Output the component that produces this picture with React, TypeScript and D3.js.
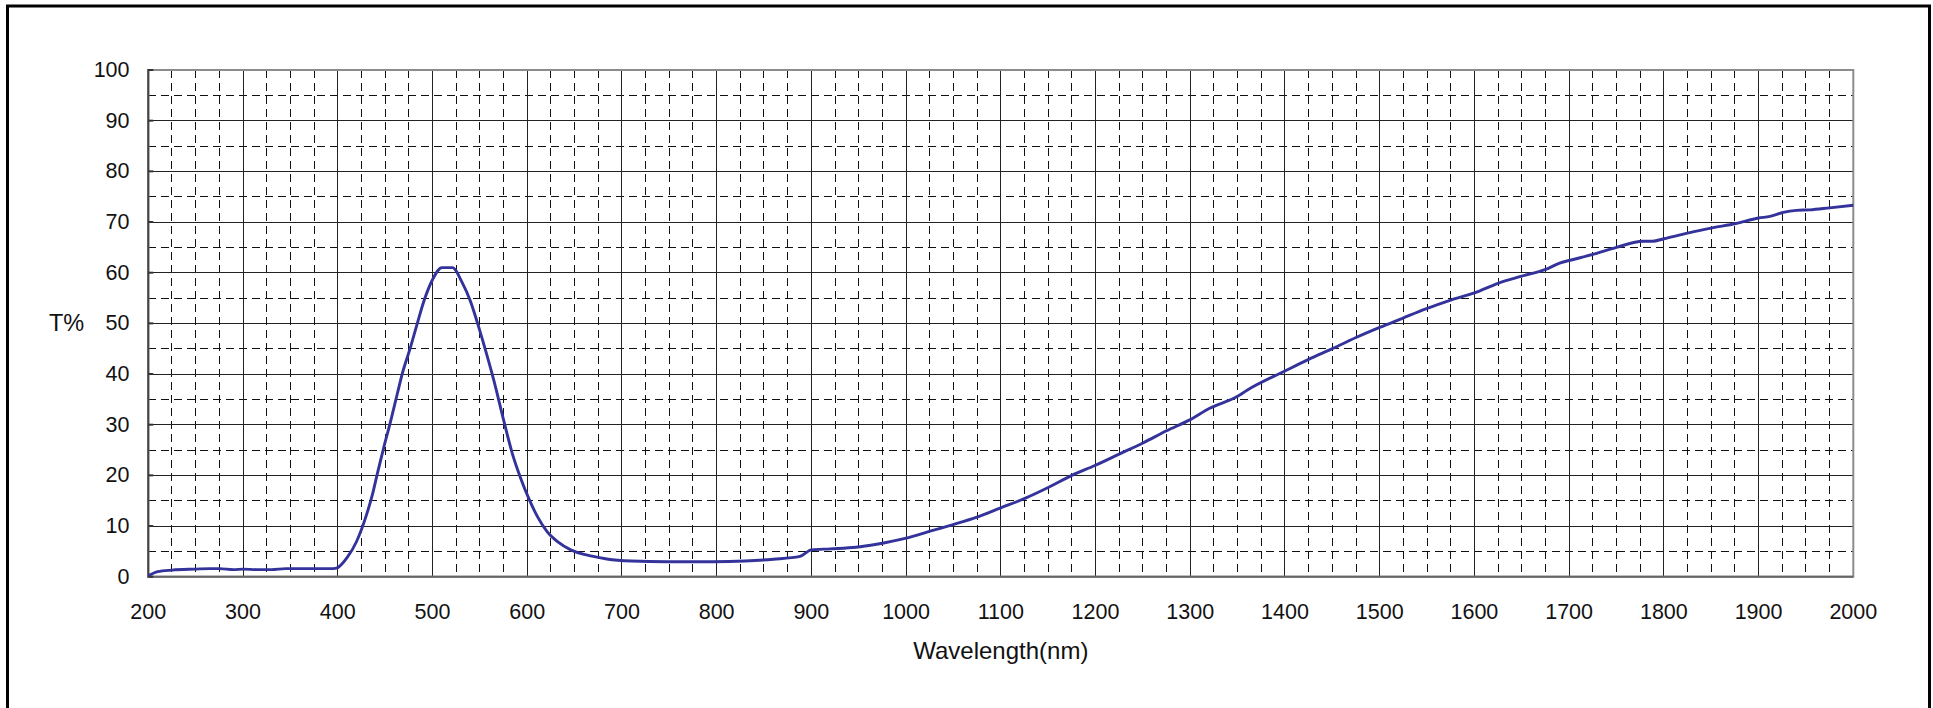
import * as d3 from "d3";
import { useEffect } from "react";

// wavelength (nm) and transmittance (%)
const wavelengths = [
    200, 210, 225, 250, 265, 275, 290, 300, 315, 330, 345, 375, 395, 400,
    410, 420, 430, 437, 442, 449, 456, 463, 468, 477, 484, 491, 500, 510, 521,
    531, 540, 547, 554, 565, 575, 584, 593, 602, 611, 621, 632, 646, 660, 667,
    684, 710, 748, 797, 830, 860, 888, 900, 920, 947, 969, 1000, 1022, 1048,
    1074, 1100, 1126, 1150, 1175, 1200, 1225, 1250, 1275, 1300, 1320, 1350,
    1360, 1400, 1425, 1450, 1475, 1500, 1524, 1548, 1575, 1600, 1625, 1650,
    1676, 1690, 1700, 1725, 1750, 1778, 1788, 1800, 1825, 1850, 1876, 1900,
    1912, 1926, 1940, 1954, 1975, 2000
];
const transmittance = [
    0.2, 1.0, 1.3, 1.5, 1.6, 1.6, 1.4, 1.5, 1.4, 1.4, 1.6, 1.6, 1.6, 1.8,
    3.8, 7.0, 12.0, 16.5, 20.5, 25.8, 30.8, 36.2, 40.0, 45.4, 50.0, 54.4, 58.6, 61.0, 61.0,
    58.2, 54.4, 50.4, 46.0, 38.6, 31.0, 24.5, 19.5, 15.3, 11.8, 8.9, 6.9, 5.3, 4.4, 4.1,
    3.5, 3.1, 2.95, 2.95, 3.1, 3.45, 4.0, 5.3, 5.5, 5.8, 6.4, 7.6, 8.8, 10.2,
    11.7, 13.6, 15.5, 17.6, 20.0, 22.0, 24.2, 26.4, 28.8, 31.0, 33.2, 35.6,
    36.8, 40.6, 42.9, 45.0, 47.2, 49.2, 51.0, 52.8, 54.6, 56.0, 57.9, 59.3,
    60.7, 61.9, 62.4, 63.6, 65.0, 66.2, 66.2, 66.7, 67.8, 68.8, 69.7, 70.8,
    71.1, 71.9, 72.3, 72.4, 72.8, 73.3
];

const xTicks = [200, 300, 400, 500, 600, 700, 800, 900, 1000, 1100, 1200, 1300, 1400, 1500, 1600, 1700, 1800, 1900, 2000];
const yTicks = [0, 10, 20, 30, 40, 50, 60, 70, 80, 90, 100];
const xMinorTicks = d3.range(225, 2000, 25).filter(v => v % 100 !== 0);
const yMinorTicks = d3.range(5, 100, 5).filter(v => v % 10 !== 0);

const W = 1933;
const H = 708;
const plot = { left: 148.3, right: 1853.3, top: 70, bottom: 576.7 };
const FONT = "Arial, 'Liberation Sans', Helvetica, sans-serif";

function App() {
    useEffect(() => {
        document.body.style.margin = "0";
    }, []);

    const x = d3.scaleLinear().domain([200, 2000]).range([plot.left, plot.right]);
    const y = d3.scaleLinear().domain([0, 100]).range([plot.bottom, plot.top]);

    const points = wavelengths.map((w, i) => [w, transmittance[i]] as [number, number]);
    const line = d3.line<[number, number]>()
        .x(d => x(d[0]))
        .y(d => y(d[1]))
        .curve(d3.curveMonotoneX);

    return (
        <svg width={W} height={H} style={{ position: "absolute", left: 0, top: 0, background: "white" }}>
            {/* outer frame, bottom edge falls outside the picture */}
            <rect x={7.5} y={6} width={1922} height={712} fill="white" stroke="black" strokeWidth={3} />

            {/* minor dashed grid */}
            <g stroke="#111" strokeWidth={1} strokeDasharray="8,5" shapeRendering="crispEdges">
                {xMinorTicks.map(v => (
                    <line key={"xm" + v} x1={x(v)} x2={x(v)} y1={plot.top} y2={plot.bottom} />
                ))}
                {yMinorTicks.map(v => (
                    <line key={"ym" + v} x1={plot.left} x2={plot.right} y1={y(v)} y2={y(v)} />
                ))}
            </g>

            {/* major solid grid */}
            <g stroke="#222" strokeWidth={1} shapeRendering="crispEdges">
                {xTicks.map(v => (
                    <line key={"xg" + v} x1={x(v)} x2={x(v)} y1={plot.top} y2={plot.bottom} />
                ))}
                {yTicks.map(v => (
                    <line key={"yg" + v} x1={plot.left} x2={plot.right} y1={y(v)} y2={y(v)} />
                ))}
            </g>

            {/* plot border */}
            <rect x={plot.left} y={plot.top} width={plot.right - plot.left} height={plot.bottom - plot.top}
                fill="none" stroke="#8c8c8c" strokeWidth={2} />
            <line x1={plot.left} x2={plot.left} y1={plot.top - 1} y2={plot.bottom + 1} stroke="#444" strokeWidth={2} />
            <line x1={plot.left} x2={plot.right} y1={plot.bottom} y2={plot.bottom} stroke="#666" strokeWidth={2} />

            {/* inner ticks on the y axis */}
            <g stroke="#333" strokeWidth={2}>
                {yTicks.map(v => (
                    <line key={"yt" + v} x1={plot.left} x2={plot.left + 5} y1={y(v)} y2={y(v)} />
                ))}
            </g>

            {/* curve */}
            <path d={line(points) ?? ""} fill="none" stroke="#33339b" strokeWidth={2.9} strokeLinejoin="round" />

            {/* tick labels */}
            <g fontFamily={FONT} fontSize={21.5} fill="#111">
                {yTicks.map(v => (
                    <text key={"yl" + v} x={129.5} y={y(v)} textAnchor="end" dominantBaseline="central">{v}</text>
                ))}
                {xTicks.map(v => (
                    <text key={"xl" + v} x={x(v)} y={618.5} textAnchor="middle">{v}</text>
                ))}
            </g>

            {/* axis titles */}
            <text x={49} y={323} fontFamily={FONT} fontSize={23.5} fill="#111" dominantBaseline="central">T%</text>
            <text x={(plot.left + plot.right) / 2} y={659} fontFamily={FONT} fontSize={24} fill="#111" textAnchor="middle">
                Wavelength(nm)
            </text>
        </svg>
    );
}

export default App;
